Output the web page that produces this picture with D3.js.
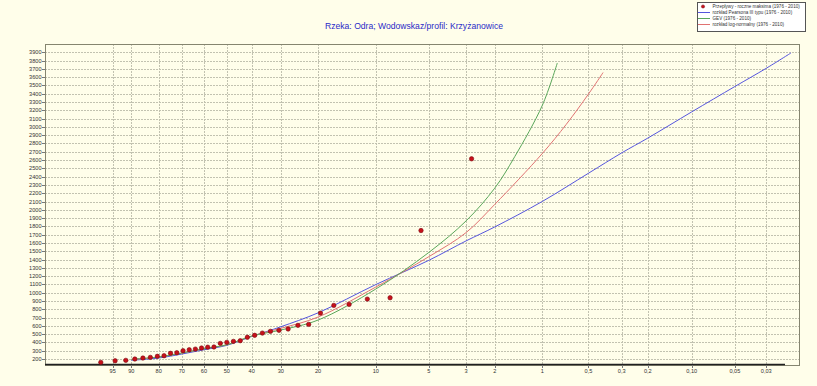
<!DOCTYPE html>
<html>
<head>
<meta charset="utf-8">
<script src="https://cdnjs.cloudflare.com/ajax/libs/d3/7.8.5/d3.min.js"></script>
<style>
  html, body { margin: 0; padding: 0; background: #fffeea; }
  svg { display: block; }
  text { font-family: "Liberation Sans", Arial, sans-serif; }
</style>
</head>
<body>
<svg id="chart" width="817" height="386"></svg>
<script>
// Annual maximum discharges, sorted from largest to smallest (1976 - 2010)
const observedFlows = [2615, 1750, 939, 923, 859, 847, 754, 618, 606, 562, 546, 534, 513, 486,
  462, 421, 413, 401, 389, 345, 343, 333, 320, 312, 300, 276, 269, 240, 233, 220, 212, 200,
  184, 179, 160];

// Fitted distributions: exceedance probability [%] and quantile value
const pearsonProb = [90, 80, 70, 60, 50, 40, 30, 20, 10, 5, 3, 2, 1, 0.5, 0.3, 0.2, 0.1, 0.05, 0.03, 0.02];
const pearsonFlow = [185, 212, 260, 312, 365, 472, 589, 757, 1098, 1391, 1625, 1793, 2101, 2441, 2687, 2865, 3181, 3487, 3707, 3892];

const gevProb = [90, 80, 70, 60, 50, 40, 30, 20, 10, 5, 3, 2, 1.5, 1, 0.8];
const gevFlow = [197, 224, 272, 324, 372, 477, 550, 670, 1044, 1486, 1866, 2261, 2640, 3260, 3771];

const lognormProb = [90, 80, 70, 60, 50, 40, 30, 20, 10, 5, 3, 2, 1, 0.7, 0.5, 0.4];
const lognormFlow = [195, 224, 272, 324, 372, 477, 570, 706, 1068, 1435, 1725, 2065, 2679, 3030, 3396, 3656];

// Probability axis ticks
const probTicks = [95, 90, 80, 70, 60, 50, 40, 30, 20, 10, 5, 3, 2, 1, 0.5, 0.3, 0.2, 0.1, 0.05, 0.03];
const probTickLabels = ["95", "90", "80", "70", "60", "50", "40", "30", "20", "10", "5", "3", "2", "1",
  "0,5", "0,3", "0,2", "0,10", "0,05", "0,03"];

// Flow axis ticks
const flowTicks = d3.range(200, 4000, 100);

const titleText = "Rzeka: Odra;  Wodowskaz/profil: Krzyżanowice";
const legendLabels = [
  "Przepływy - roczne maksima (1976 - 2010)",
  "rozkład Pearsona III typu (1976 - 2010)",
  "GEV (1976 - 2010)",
  "rozkład log-normalny (1976 - 2010)"
];

// Probability paper: Pearson III frequency factor with skew Cs = 1
// (gamma distribution with shape 4, standardised)
function gammaSurvival(g) {
  return Math.exp(-g) * (1 + g + g * g / 2 + g * g * g / 6);
}
function freqFactor(pct) {
  const p = pct / 100;
  if (p >= 1) return -2;
  let lo = 0, hi = 80;
  for (let i = 0; i < 80; i++) {
    const mid = (lo + hi) / 2;
    if (gammaSurvival(mid) > p) lo = mid; else hi = mid;
  }
  return ((lo + hi) / 2 - 4) / 2;
}

const svg = d3.select("#chart");
const plot = { left: 45, right: 799, top: 44, bottom: 364 };

const kScale = d3.scaleLinear().domain([-2, 5.615]).range([plot.left, plot.right]);
const x = p => kScale(freqFactor(p));
const y = d3.scaleLinear().domain([140, 4000]).range([plot.bottom, plot.top]);

// Background
svg.append("rect").attr("width", 817).attr("height", 386).attr("fill", "#fffeea");

// Grid
const grid = svg.append("g");
grid.selectAll("line.h").data(flowTicks).enter().append("line")
  .attr("x1", plot.left).attr("x2", plot.right)
  .attr("y1", d => Math.round(y(d)) + 0.5).attr("y2", d => Math.round(y(d)) + 0.5)
  .attr("stroke", "#c2c2b0").attr("stroke-width", 1).attr("stroke-dasharray", "2,1");
grid.selectAll("line.v").data(probTicks).enter().append("line")
  .attr("x1", d => Math.round(x(d)) + 0.5).attr("x2", d => Math.round(x(d)) + 0.5)
  .attr("y1", plot.top).attr("y2", plot.bottom)
  .attr("stroke", "#c2c2b0").attr("stroke-width", 1).attr("stroke-dasharray", "2,1");

// Frame
svg.append("rect")
  .attr("x", plot.left + 0.5).attr("y", plot.top + 0.5)
  .attr("width", plot.right - plot.left).attr("height", plot.bottom - plot.top + 1)
  .attr("fill", "none").attr("stroke", "#85856f").attr("stroke-width", 1);
svg.append("line")
  .attr("x1", plot.left).attr("x2", 785)
  .attr("y1", plot.bottom + 0.5).attr("y2", plot.bottom + 0.5)
  .attr("stroke", "#202020").attr("stroke-width", 1.5);

// Y axis labels
const yAxis = svg.append("g");
yAxis.selectAll("line").data(flowTicks).enter().append("line")
  .attr("x1", plot.left - 3).attr("x2", plot.left)
  .attr("y1", d => Math.round(y(d)) + 0.5).attr("y2", d => Math.round(y(d)) + 0.5)
  .attr("stroke", "#777");
yAxis.selectAll("text").data(flowTicks).enter().append("text")
  .attr("x", plot.left - 3.5).attr("y", d => y(d) + 2)
  .attr("text-anchor", "end").attr("font-size", "5.6px").attr("fill", "#333")
  .text(d => d);

// X axis labels
const xAxis = svg.append("g");
xAxis.selectAll("line").data(probTicks).enter().append("line")
  .attr("x1", d => Math.round(x(d)) + 0.5).attr("x2", d => Math.round(x(d)) + 0.5)
  .attr("y1", plot.bottom + 1).attr("y2", plot.bottom + 4)
  .attr("stroke", "#777");
xAxis.selectAll("text").data(probTicks).enter().append("text")
  .attr("x", d => x(d)).attr("y", plot.bottom + 9)
  .attr("text-anchor", "middle").attr("font-size", "5.6px").attr("fill", "#333")
  .text((d, i) => probTickLabels[i]);

// Fitted curves
const line = d3.line().x(d => x(d[0])).y(d => y(d[1])).curve(d3.curveCatmullRom.alpha(0.5));
const curves = [
  { prob: pearsonProb, flow: pearsonFlow, color: "#5555dd" },
  { prob: lognormProb, flow: lognormFlow, color: "#e07272" },
  { prob: gevProb, flow: gevFlow, color: "#5aa65a" }
];
curves.forEach(c => {
  svg.append("path")
    .datum(c.prob.map((p, i) => [p, c.flow[i]]))
    .attr("d", line)
    .attr("fill", "none").attr("stroke", c.color).attr("stroke-width", 1);
});

// Observed annual maxima at Weibull plotting positions m/(n+1)
const n = observedFlows.length;
svg.append("g").selectAll("circle").data(observedFlows).enter().append("circle")
  .attr("cx", (d, i) => x((i + 1) / (n + 1) * 100))
  .attr("cy", d => y(d))
  .attr("r", 2.2)
  .attr("fill", "#c8101a").attr("stroke", "#7a0a10").attr("stroke-width", 0.6);

// Title
svg.append("text")
  .attr("x", 414).attr("y", 29)
  .attr("text-anchor", "middle").attr("font-size", "8.6px").attr("fill", "#2a2ac8")
  .text(titleText);

// Legend
const lg = svg.append("g").attr("transform", "translate(697,2)");
lg.append("rect").attr("x", 0.5).attr("y", 0.5).attr("width", 108).attr("height", 29)
  .attr("fill", "#ffffff").attr("stroke", "#555").attr("stroke-width", 1);
const legendColors = [null, "#5555dd", "#5aa65a", "#e07272"];
legendLabels.forEach((label, i) => {
  const ly = 4.5 + i * 6;
  if (i === 0) {
    lg.append("circle").attr("cx", 6).attr("cy", ly).attr("r", 1.6)
      .attr("fill", "#c8101a").attr("stroke", "#7a0a10").attr("stroke-width", 0.5);
  } else {
    lg.append("line").attr("x1", 1).attr("x2", 13).attr("y1", ly).attr("y2", ly)
      .attr("stroke", legendColors[i]).attr("stroke-width", 1);
  }
  lg.append("text").attr("x", 15.5).attr("y", ly + 1.6)
    .attr("font-size", "4.6px").attr("fill", "#333").text(label);
});
</script>
</body>
</html>
